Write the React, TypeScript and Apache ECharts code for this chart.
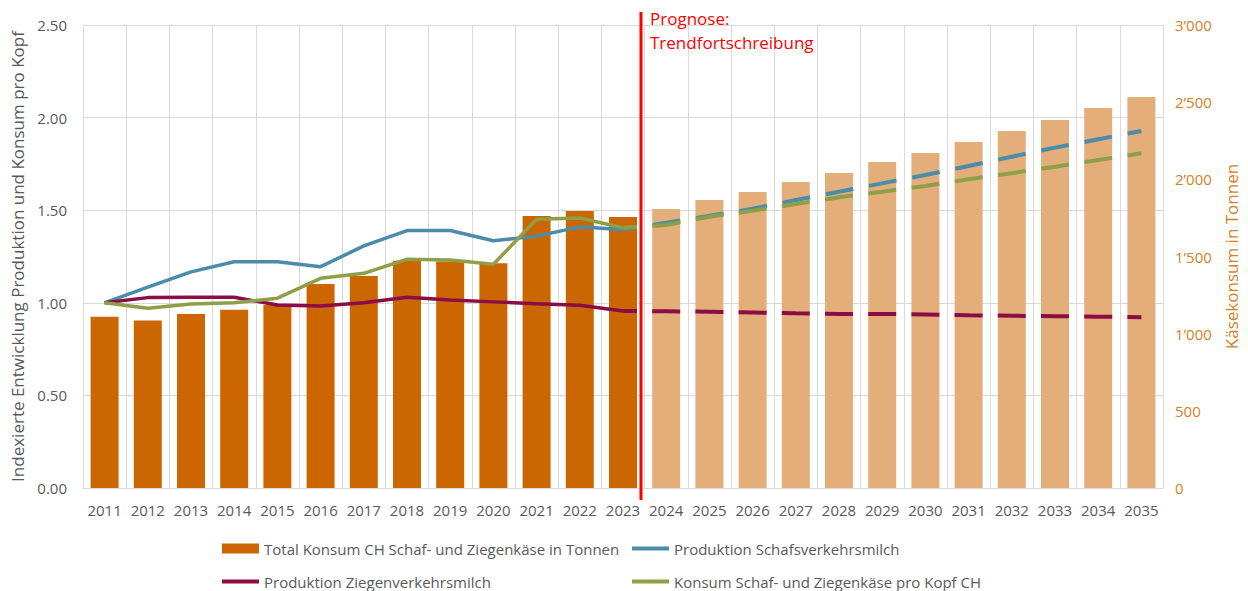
import { useEffect, useRef } from 'react';
import * as echarts from 'echarts';

const years = ['2011','2012','2013','2014','2015','2016','2017','2018','2019','2020','2021','2022','2023','2024','2025','2026','2027','2028','2029','2030','2031','2032','2033','2034','2035'];
const totalKonsum = [1110,1086,1127,1155,1186,1322,1374,1473,1467,1456,1762,1795,1756,1808,1866,1918,1983,2041,2112,2171,2242,2313,2384,2462,2533];
const schafHist = [1.0,1.085,1.167,1.222,1.222,1.195,1.307,1.39,1.39,1.335,1.36,1.41,1.395];
const schafProg = [1.432,1.47,1.508,1.555,1.6,1.645,1.69,1.739,1.789,1.838,1.883,1.928];
const ziegeHist = [1.0,1.028,1.03,1.03,0.988,0.983,1.0,1.03,1.015,1.005,0.995,0.987,0.956];
const ziegeProg = [0.954,0.952,0.948,0.943,0.94,0.94,0.937,0.933,0.93,0.928,0.925,0.922];
const kopfHist = [1.0,0.97,0.993,1.0,1.025,1.132,1.159,1.235,1.231,1.208,1.451,1.458,1.405];
const kopfProg = [1.42,1.465,1.497,1.533,1.57,1.6,1.631,1.667,1.7,1.735,1.771,1.807];
const leftTicks = [0, 2.5, 0.5];
const rightTicks = [0, 3000, 500];

const NAME_BAR = 'Total Konsum CH Schaf- und Ziegenkäse in Tonnen';
const NAME_SCHAF = 'Produktion Schafsverkehrsmilch';
const NAME_ZIEGE = 'Produktion Ziegenverkehrsmilch';
const NAME_KOPF = 'Konsum Schaf- und Ziegenkäse pro Kopf CH';

const C_BAR = '#CC6600';
const C_BAR_LIGHT = '#E4AE7A';
const C_SCHAF = '#4A8CAA';
const C_ZIEGE = '#8C0C45';
const C_KOPF = '#8F9F48';
const C_RIGHT = '#D47F2A';
const GRAY = '#595959';
const FONT = 'Open Sans';

export default function App() {
  const ref = useRef<HTMLDivElement>(null);
  useEffect(() => {
    document.body.style.margin = '0';
    const chart = echarts.init(ref.current!, null, { renderer: 'svg' });
    const nHist = schafHist.length;
    const histData = (arr: number[]) => years.map((_, i) => (i < nHist ? arr[i] : null));
    const progData = (hist: number[], prog: number[]) =>
      years.map((_, i) => (i < nHist - 1 ? null : i === nHist - 1 ? hist[nHist - 1] : prog[i - nHist]));

    const fmtRight = (v: number) =>
      v >= 1000 ? `${Math.floor(v / 1000)}’${String(v % 1000).padStart(3, '0')}` : String(v);

    const legendBase = {
      padding: 0,
      selectedMode: false,
      itemWidth: 37,
      itemGap: 0,
      textStyle: { fontFamily: FONT, fontSize: 15, color: GRAY },
    };

    const option: any = {
      animation: false,
      textStyle: { fontFamily: FONT },
      grid: { left: 83, right: 84, top: 25, bottom: 103 },
      legend: [
        { ...legendBase, left: 222, top: 541, itemHeight: 10, data: [{ name: NAME_BAR, icon: 'rect' }] },
        { ...legendBase, left: 632, top: 541, itemHeight: 4, data: [{ name: NAME_SCHAF, icon: 'rect' }] },
        { ...legendBase, left: 222, top: 574, itemHeight: 4, data: [{ name: NAME_ZIEGE, icon: 'rect' }] },
        { ...legendBase, left: 632, top: 574, itemHeight: 4, data: [{ name: NAME_KOPF, icon: 'rect' }] },
      ],
      xAxis: {
        type: 'category',
        data: years,
        axisTick: { show: false },
        axisLine: { lineStyle: { color: '#D9D9D9', width: 1 } },
        axisLabel: { color: GRAY, fontSize: 15, margin: 14, fontFamily: FONT, interval: 0 },
        splitLine: { show: true, interval: 0, lineStyle: { color: '#D9D9D9', width: 1 } },
      },
      yAxis: [
        {
          type: 'value',
          min: leftTicks[0],
          max: leftTicks[1],
          interval: leftTicks[2],
          name: 'Indexierte Entwicklung Produktion und Konsum pro Kopf',
          nameLocation: 'middle',
          nameGap: 56,
          nameTextStyle: { color: GRAY, fontSize: 17, fontFamily: FONT },
          axisLine: { show: false },
          axisTick: { show: false },
          axisLabel: { color: GRAY, fontSize: 15, margin: 16, formatter: (v: number) => v.toFixed(2) },
          splitLine: { lineStyle: { color: '#D9D9D9', width: 1 } },
        },
        {
          type: 'value',
          min: rightTicks[0],
          max: rightTicks[1],
          interval: rightTicks[2],
          position: 'right',
          name: 'Käsekonsum in Tonnen',
          nameLocation: 'middle',
          nameRotate: 90,
          nameGap: 60,
          nameTextStyle: { color: C_RIGHT, fontSize: 17, fontFamily: FONT },
          axisLine: { show: false },
          axisTick: { show: false },
          axisLabel: { color: C_RIGHT, fontSize: 15, margin: 12, formatter: fmtRight },
          splitLine: { show: false },
        },
      ],
      series: [
        {
          id: 'bar',
          name: NAME_BAR,
          type: 'bar',
          yAxisIndex: 1,
          barWidth: 28,
          itemStyle: { color: C_BAR },
          data: totalKonsum.map((v, i) => (i < nHist ? v : { value: v, itemStyle: { color: C_BAR_LIGHT } })),
        },
        {
          id: 'schaf', name: NAME_SCHAF, type: 'line', showSymbol: false, symbol: 'none',
          itemStyle: { color: C_SCHAF }, lineStyle: { color: C_SCHAF, width: 3.5 }, data: histData(schafHist),
        },
        {
          id: 'ziege', name: NAME_ZIEGE, type: 'line', showSymbol: false, symbol: 'none',
          itemStyle: { color: C_ZIEGE }, lineStyle: { color: C_ZIEGE, width: 3.5 }, data: histData(ziegeHist),
        },
        {
          id: 'kopf', name: NAME_KOPF, type: 'line', showSymbol: false, symbol: 'none',
          itemStyle: { color: C_KOPF }, lineStyle: { color: C_KOPF, width: 3.5 }, data: histData(kopfHist),
        },
        {
          id: 'schafP', name: 'Prognose Schaf', type: 'line', showSymbol: false, symbol: 'none',
          itemStyle: { color: C_SCHAF }, lineStyle: { color: C_SCHAF, width: 4 }, data: progData(schafHist, schafProg),
        },
        {
          id: 'ziegeP', name: 'Prognose Ziege', type: 'line', showSymbol: false, symbol: 'none',
          itemStyle: { color: C_ZIEGE }, lineStyle: { color: C_ZIEGE, width: 4 }, data: progData(ziegeHist, ziegeProg),
        },
        {
          id: 'kopfP', name: 'Prognose Kopf', type: 'line', showSymbol: false, symbol: 'none',
          itemStyle: { color: C_KOPF }, lineStyle: { color: C_KOPF, width: 4 }, data: progData(kopfHist, kopfProg),
        },
      ],
    };
    chart.setOption(option);

    // second pass: positions derived from the chart's own scales
    const px = (seriesIndex: number, i: number, v: number) =>
      chart.convertToPixel({ seriesIndex }, [i, v]) as number[];
    const dashFor = (seriesIndex: number, hist: number[], prog: number[]) => {
      const vals = [hist[nHist - 1], ...prog];
      let total = 0;
      for (let k = 1; k < vals.length; k++) {
        const a = px(seriesIndex, nHist - 2 + k, vals[k - 1]);
        const b = px(seriesIndex, nHist - 1 + k, vals[k]);
        total += Math.hypot(b[0] - a[0], b[1] - a[1]);
      }
      const seg = total / (vals.length - 1);
      const dash = 28;
      return { type: [dash, seg - dash], dashOffset: dash / 2 };
    };
    const xa = (chart.convertToPixel({ xAxisIndex: 0 }, years[nHist - 1]) as number);
    const xb = (chart.convertToPixel({ xAxisIndex: 0 }, years[nHist]) as number);
    const xm = Math.round((xa + xb) / 2) - 4;

    chart.setOption({
      series: [
        { id: 'schafP', lineStyle: dashFor(4, schafHist, schafProg) },
        { id: 'ziegeP', lineStyle: dashFor(5, ziegeHist, ziegeProg) },
        { id: 'kopfP', lineStyle: dashFor(6, kopfHist, kopfProg) },
      ],
      graphic: [
        {
          type: 'line',
          z: 100,
          shape: { x1: xm, y1: 12, x2: xm, y2: 500 },
          style: { stroke: '#FF0000', lineWidth: 3 },
        },
        {
          type: 'text',
          z: 100,
          left: xm + 9,
          top: 6,
          style: {
            text: 'Prognose:\nTrendfortschreibung',
            fill: '#FF0000',
            font: `17px "${FONT}"`,
            lineHeight: 24,
          },
        },
      ],
    });

    return () => chart.dispose();
  }, []);
  return <div ref={ref} style={{ width: 1248, height: 591 }} />;
}
